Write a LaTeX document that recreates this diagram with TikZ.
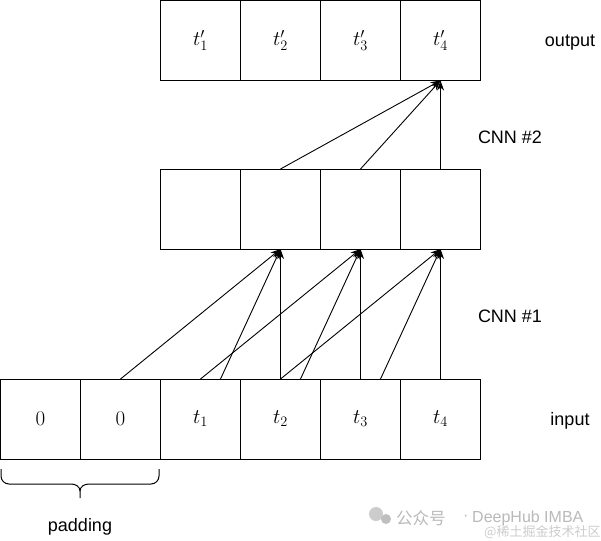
\documentclass[tikz,border=0pt]{standalone}
\usepackage{fontspec}
\newfontfamily\lab{Liberation Sans}
\newfontfamily\cjk{Noto Sans CJK SC}
\usetikzlibrary{arrows.meta}
\newcommand{\cellfont}{\fontsize{21}{23}\selectfont}
\begin{document}
\begin{tikzpicture}[x=1pt,y=-1pt,
  cell/.style={draw, line width=1pt, minimum width=80pt, minimum height=80pt, inner sep=0pt, outer sep=0pt},
  lbl/.style={font=\lab\fontsize{18}{20}\selectfont, inner sep=0pt, anchor=base},
  conn/.style={line width=0.9pt, -{Stealth[length=10pt,width=7pt,inset=3pt]}},
  brace/.style={line width=1pt},
  wm/.style={inner sep=0pt, anchor=west}]
\useasboundingbox (0,0) rectangle (601,540);
% input row
\node[cell] (i1) at (40.5,419) {\cellfont 0};
\node[cell] (i2) at (120.5,419) {\cellfont 0};
\node[cell] (i3) at (200.5,419) {\cellfont $t_1$};
\node[cell] (i4) at (280.5,419) {\cellfont $t_2$};
\node[cell] (i5) at (360.5,419) {\cellfont $t_3$};
\node[cell] (i6) at (440.5,419) {\cellfont $t_4$};
% middle row
\node[cell] (m1) at (200.5,209) {};
\node[cell] (m2) at (280.5,209) {};
\node[cell] (m3) at (360.5,209) {};
\node[cell] (m4) at (440.5,209) {};
% output row
\node[cell] (o1) at (200.5,40.5) {\cellfont $t'_1$};
\node[cell] (o2) at (280.5,40.5) {\cellfont $t'_2$};
\node[cell] (o3) at (360.5,40.5) {\cellfont $t'_3$};
\node[cell] (o4) at (440.5,40.5) {\cellfont $t'_4$};
% CNN #1 connectors
\draw[conn] (i2.north) -- (m2.south);
\draw[conn] (i3.north) -- (m3.south);
\draw[conn] ([xshift=20pt]i3.north) -- (m2.south);
\draw[conn] (i4.north) -- (m2.south);
\draw[conn] (i4.north) -- (m4.south);
\draw[conn] ([xshift=20pt]i4.north) -- (m3.south);
\draw[conn] (i5.north) -- (m3.south);
\draw[conn] ([xshift=20pt]i5.north) -- (m4.south);
\draw[conn] (i6.north) -- (m4.south);
% CNN #2 connectors
\draw[conn] (m2.north) -- (o4.south);
\draw[conn] (m3.north) -- (o4.south);
\draw[conn] (m4.north) -- (o4.south);
% labels
\node[lbl] (lout) at (570,47) {output};
\node[lbl] (lc2) at (510,143) {CNN \#2};
\node[lbl] (lc1) at (510,322) {CNN \#1};
\node[lbl] (lin) at (570,425) {input};
\node[lbl] (lpad) at (80,531) {padding};
% padding brace
\draw[brace] (1,469) -- (1,476) to[out=-90,in=180] (9,484) -- (71,484)
  to[out=0,in=90] (80,491) -- (80,498);
\draw[brace] (80,491) to[out=90,in=180] (89,484) -- (151,484)
  to[out=0,in=-90] (159,476) -- (159,469);
% watermark
\fill[gray!40] (376,514) circle (7pt);
\fill[gray!50] (386,519) circle (5pt);
\node[wm, text=gray!55, font=\cjk\fontsize{16.5}{18}\selectfont] (wm1) at (396,518) {公众号};
\node[wm, text=gray!55, font=\lab\fontsize{16}{18}\selectfont] (wm2) at (463,518) {·};
\node[wm, text=gray!55, font=\lab\fontsize{16}{18}\selectfont] (wm3) at (472,518) {DeepHub IMBA};
\node[wm, text=gray!40, font=\cjk\fontsize{13}{14}\selectfont] (wm4) at (484,532) {@稀土掘金技术社区};
\end{tikzpicture}
\end{document}
